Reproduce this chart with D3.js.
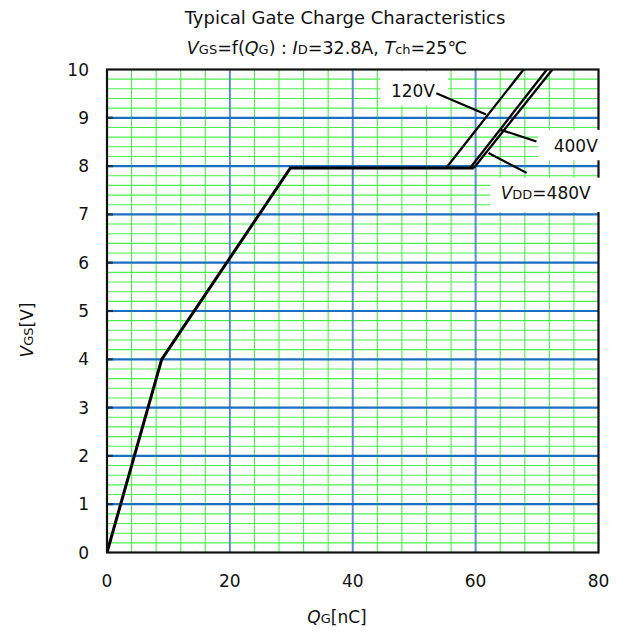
<!DOCTYPE html>
<html><head><meta charset="utf-8">
<script src="https://cdn.jsdelivr.net/npm/d3@7"></script>
<style>
body{margin:0;background:#fff;}
text{font-family:"DejaVu Sans",Verdana,sans-serif;fill:#111;}
</style></head>
<body><svg id="c" width="621" height="634"></svg>
<script>
// ---- data ----
const xTicks = [0, 20, 40, 60, 80];
const yTicks = [0, 1, 2, 3, 4, 5, 6, 7, 8, 9, 10];
// common rising part (Q in nC, V in V)
const commonQ = [0, 8.9, 29.85];
const commonV = [0, 4.0, 7.96];
const seriesNames = ["120V", "400V", "480V"];
const plateauEndQ = [55.2, 59.1, 59.7];
const plateauV = [7.96, 7.96, 7.96];
const topQ = [67.8, 71.6, 72.5];
const topV = [10, 10, 10];

const m = {l:107, r:598.5, t:69.5, b:552.5};
const x = d3.scaleLinear().domain([0,80]).range([m.l, m.r]);
const y = d3.scaleLinear().domain([0,10]).range([m.b, m.t]);
const svg = d3.select("#c");

const gridG = svg.append("g");
// minor grid
gridG.selectAll("line.mx").data(d3.range(4,80,4).filter(v=>v%20!==0)).enter().append("line")
  .attr("x1",d=>x(d)).attr("x2",d=>x(d)).attr("y1",y(0)).attr("y2",y(10))
  .attr("stroke","#4af04a").attr("stroke-width",1.1);
gridG.selectAll("line.my").data(d3.range(1,50).map(i=>i*0.2).filter(v=>Math.abs(v-Math.round(v))>1e-6)).enter().append("line")
  .attr("x1",x(0)).attr("x2",x(80)).attr("y1",d=>y(d)).attr("y2",d=>y(d))
  .attr("stroke","#4af04a").attr("stroke-width",1.1);
// major grid
gridG.selectAll("line.Mx").data([20,40,60]).enter().append("line")
  .attr("x1",d=>x(d)).attr("x2",d=>x(d)).attr("y1",y(0)).attr("y2",y(10))
  .attr("stroke","#5a8ccc").attr("stroke-width",2);
gridG.selectAll("line.My").data(d3.range(1,10)).enter().append("line")
  .attr("x1",x(0)).attr("x2",x(80)).attr("y1",d=>y(d)).attr("y2",d=>y(d))
  .attr("stroke","#1a6fc0").attr("stroke-width",2.2);
// inner ticks on left
gridG.selectAll("line.tk").data(d3.range(1,10)).enter().append("line")
  .attr("x1",x(0)).attr("x2",x(0)+6).attr("y1",d=>y(d)).attr("y2",d=>y(d))
  .attr("stroke","#1b3550").attr("stroke-width",2.2);

// 120V label background (inside plot)
const box120 = {q0:44.5, q1:55.5, v0:9.25, v1:9.96};
svg.append("rect").attr("x",x(box120.q0)).attr("y",y(box120.v1)).attr("width",x(box120.q1)-x(box120.q0))
  .attr("height",y(box120.v0)-y(box120.v1)).attr("fill","#fff");

// curves
svg.append("clipPath").attr("id","pc").append("rect")
  .attr("x",m.l).attr("y",m.t).attr("width",m.r-m.l).attr("height",m.b-m.t);
const line = d3.line().x(d=>x(d[0])).y(d=>y(d[1]));
const cg = svg.append("g").attr("clip-path","url(#pc)");
seriesNames.forEach((n,i)=>{
  cg.append("path").datum([[plateauEndQ[i],plateauV[i]],[topQ[i],topV[i]]])
    .attr("d",line).attr("fill","none").attr("stroke","#000").attr("stroke-width",2.3);
});
const common = commonQ.map((q,i)=>[q,commonV[i]]);
const idxMax = plateauEndQ.indexOf(d3.max(plateauEndQ));
common.push([plateauEndQ[idxMax], plateauV[idxMax]]);
cg.append("path").datum(common).attr("d",line).attr("fill","none")
  .attr("stroke","#000").attr("stroke-width",3).attr("stroke-linejoin","miter");

// frame
svg.append("rect").attr("x",m.l).attr("y",m.t).attr("width",m.r-m.l).attr("height",m.b-m.t)
  .attr("fill","none").attr("stroke","#111").attr("stroke-width",2.2);

// label boxes that cover the right frame
const boxes = [
  {q0:70.2, q1:83, v0:8.12, v1:8.75},
  {q0:62.4, q1:83, v0:7.05, v1:7.76}
];
svg.append("g").selectAll("rect").data(boxes).enter().append("rect")
  .attr("x",d=>x(d.q0)).attr("y",d=>y(d.v1)).attr("width",d=>x(d.q1)-x(d.q0)).attr("height",d=>y(d.v0)-y(d.v1))
  .attr("fill","#fff");

// leader lines
const leaders = [
  [[53.6,9.51],[61.7,9.07]],
  [[64.1,8.75],[69.9,8.51]],
  [[62.1,8.27],[68.3,7.86]]
];
leaders.forEach(l=>{
  svg.append("path").datum(l).attr("d",line).attr("stroke","#000").attr("stroke-width",2.2).attr("fill","none");
});

// labels
const fs = 17;
svg.append("text").attr("x",x(49.8)).attr("y",y(9.43)).attr("font-size",fs).attr("text-anchor","middle").text("120V");
svg.append("text").attr("x",x(76.3)).attr("y",y(8.3)).attr("font-size",fs).attr("text-anchor","middle").text("400V");
const t480 = svg.append("text").attr("x",x(71.4)).attr("y",y(7.32)).attr("font-size",fs).attr("text-anchor","middle");
t480.append("tspan").attr("font-style","italic").text("V");
t480.append("tspan").attr("font-size",13).text("DD");
t480.append("tspan").text("=480V");

// axes tick labels
svg.append("g").selectAll("text").data(xTicks).enter().append("text")
  .attr("x",d=>x(d)).attr("y",587).attr("text-anchor","middle").attr("font-size",fs).text(d=>d);
svg.append("g").selectAll("text").data(yTicks).enter().append("text")
  .attr("x",89).attr("y",d=>y(d)+6).attr("text-anchor","end").attr("font-size",fs).text(d=>d);

// title
svg.append("text").attr("x",345).attr("y",24).attr("text-anchor","middle").attr("font-size",18).text("Typical Gate Charge Characteristics");
const st = svg.append("text").attr("x",327).attr("y",54).attr("text-anchor","middle").attr("font-size",17.5);
[["V","i"],["GS","s"],["=f(",""],["Q","i"],["G","s"],[") : ",""],["I","i"],["D","s"],["=32.8A, ",""],["T","i"],["ch","s"],["=25℃",""]]
 .forEach(([t,s])=>{
  const sp = st.append("tspan").text(t);
  if(s==="i") sp.attr("font-style","italic");
  if(s==="s") sp.attr("font-size",13);
 });

// axis titles
const xt = svg.append("text").attr("x",337).attr("y",623).attr("text-anchor","middle").attr("font-size",fs);
xt.append("tspan").attr("font-style","italic").text("Q");
xt.append("tspan").attr("font-size",13).text("G");
xt.append("tspan").text("[nC]");
const yt = svg.append("text").attr("transform","translate(33,330) rotate(-90)").attr("text-anchor","middle").attr("font-size",fs);
yt.append("tspan").attr("font-style","italic").text("V");
yt.append("tspan").attr("font-size",13).text("GS");
yt.append("tspan").text("[V]");
</script></body></html>
